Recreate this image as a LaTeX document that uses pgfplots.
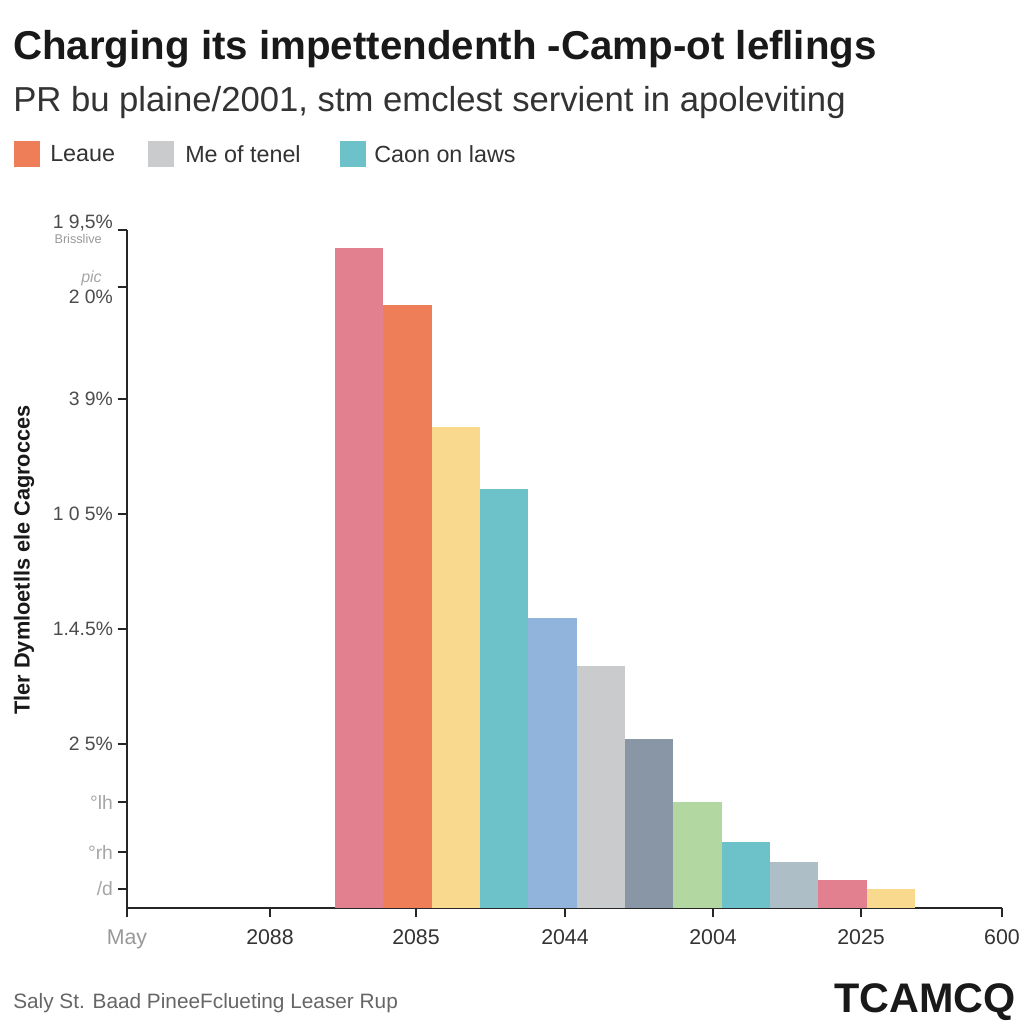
\documentclass[border=0pt]{standalone}
\usepackage{pgfplots}
\pgfplotsset{compat=1.18}
\usepackage{fontspec}
\setmainfont{Liberation Sans}
\definecolor{cpink}{HTML}{E2808F}
\definecolor{corange}{HTML}{EE7E58}
\definecolor{cyellow}{HTML}{F8D98E}
\definecolor{cteal}{HTML}{6DC1C9}
\definecolor{cblue}{HTML}{91B4DC}
\definecolor{clgray}{HTML}{C9CBCD}
\definecolor{cslate}{HTML}{8996A5}
\definecolor{cgreen}{HTML}{B3D7A1}
\definecolor{cgblue}{HTML}{AEBEC7}
\definecolor{ctext}{HTML}{333333}
\begin{document}
\begin{tikzpicture}[x=0.75pt,y=0.75pt]
\path[use as bounding box, fill=white] (0,0) rectangle (1024,1024);
% titles
\node[anchor=west, inner sep=0pt, font=\fontsize{30.2}{34}\selectfont\bfseries, text=black!90] at (13,975) {Charging its impettendenth -Camp-ot leflings};
\node[anchor=west, inner sep=0pt, font=\fontsize{26}{30}\selectfont, text=ctext] at (13,921) {PR bu plaine/2001, stm emclest servient in apoleviting};
% legend
\fill[corange] (14,857) rectangle (40,883);
\node[anchor=west, inner sep=0pt, font=\fontsize{17.5}{20}\selectfont, text=ctext] at (50,870) {Leaue};
\fill[clgray] (148,857) rectangle (174,883);
\node[anchor=west, inner sep=0pt, font=\fontsize{17.5}{20}\selectfont, text=ctext] at (185,870) {Me of tenel};
\fill[cteal] (340,857) rectangle (366,883);
\node[anchor=west, inner sep=0pt, font=\fontsize{17.5}{20}\selectfont, text=ctext] at (374,870) {Caon on laws};
% y label
\node[rotate=90, inner sep=0pt, font=\fontsize{16.3}{19}\selectfont\bfseries, text=black!90] at (24,464) {Tler Dymloetlls ele Cagrocces};
% small gray texts
\node[anchor=east, inner sep=0pt, font=\fontsize{9.5}{10}\selectfont, text=black!40] at (102,785) {Brisslive};
\node[anchor=east, inner sep=0pt, font=\fontsize{12}{13}\selectfont\itshape, text=black!35] at (102,746) {pic};
% footer
\node[anchor=west, inner sep=0pt, font=\fontsize{15.6}{18}\selectfont, text=black!60] at (13,21) {Saly St. Baad PineeFclueting Leaser Rup};
\node[anchor=east, inner sep=0pt, font=\fontsize{31}{35}\selectfont\bfseries, text=black!90] at (1016,22) {TCAMCQ};
\begin{axis}[
  at={(95.25pt,87pt)}, anchor=south west,
  scale only axis, width=656.25pt, height=508.5pt,
  xmin=127, xmax=1002, ymin=0, ymax=678,
  axis x line=bottom, axis y line=left,
  axis line style={-, line width=1.6pt, black!85},
  major tick style={line width=1.4pt, black!85},
  tick align=outside, major tick length=7pt,
  xtick={127,270,416,565,713,861,1002},
  xticklabels={\textcolor{black!40}{May},2088,2085,2044,2004,2025,600},
  ytick={19,56,106,164,279,394,509,621,678},
  yticklabels={\textcolor{black!35}{/d},\textcolor{black!35}{°rh},\textcolor{black!35}{°lh},2 5\%,1.4.5\%,1 0 5\%,3 9\%,\raisebox{-12.7pt}[0pt][0pt]{2 0\%},\raisebox{0.8pt}[0pt][0pt]{1 9{,}5\%}},
  xticklabel style={font=\fontsize{16}{18}\selectfont, text=ctext, yshift=-6pt},
  yticklabel style={font=\fontsize{14.5}{16}\selectfont, text=black!70},
]
\addplot[ybar, bar width=48.33, bar shift=0pt, fill=cpink, draw=none] coordinates {(359.2,660)};
\addplot[ybar, bar width=48.33, bar shift=0pt, fill=corange, draw=none] coordinates {(407.5,603)};
\addplot[ybar, bar width=48.33, bar shift=0pt, fill=cyellow, draw=none] coordinates {(455.8,481)};
\addplot[ybar, bar width=48.33, bar shift=0pt, fill=cteal, draw=none] coordinates {(504.2,419)};
\addplot[ybar, bar width=48.33, bar shift=0pt, fill=cblue, draw=none] coordinates {(552.5,290)};
\addplot[ybar, bar width=48.33, bar shift=0pt, fill=clgray, draw=none] coordinates {(600.8,242)};
\addplot[ybar, bar width=48.33, bar shift=0pt, fill=cslate, draw=none] coordinates {(649.2,169)};
\addplot[ybar, bar width=48.33, bar shift=0pt, fill=cgreen, draw=none] coordinates {(697.5,106)};
\addplot[ybar, bar width=48.33, bar shift=0pt, fill=cteal, draw=none] coordinates {(745.8,66)};
\addplot[ybar, bar width=48.33, bar shift=0pt, fill=cgblue, draw=none] coordinates {(794.2,46)};
\addplot[ybar, bar width=48.33, bar shift=0pt, fill=cpink, draw=none] coordinates {(842.5,28)};
\addplot[ybar, bar width=48.33, bar shift=0pt, fill=cyellow, draw=none] coordinates {(890.8,19)};
\end{axis}
\end{tikzpicture}
\end{document}
